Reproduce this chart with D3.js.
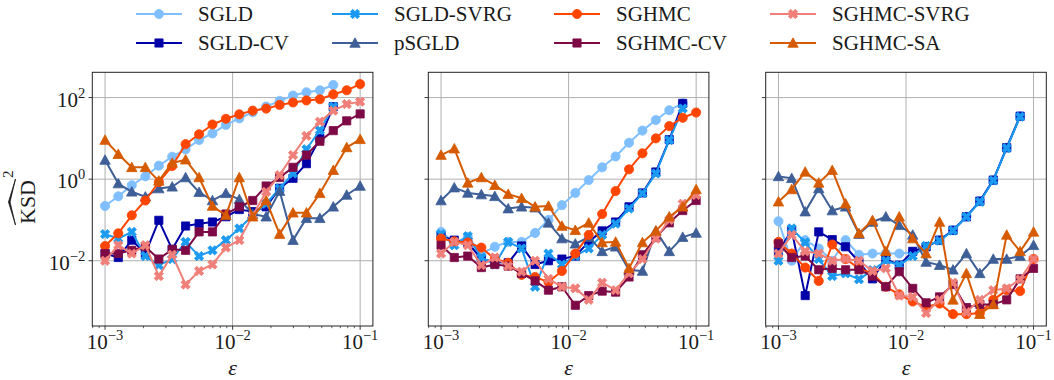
<!DOCTYPE html>
<html>
<head>
<meta charset="utf-8">
<script src="https://cdn.jsdelivr.net/npm/d3@7"></script>
<style>
body { margin: 0; background: #fff; }
svg text { font-family: "Liberation Serif", "DejaVu Serif", serif; fill: #1a1a1a; }
</style>
</head>
<body>
<div id="chart"></div>
<script>
// Step sizes, shared by every panel
var eps = [0.001, 0.00127, 0.00162, 0.00207, 0.00264, 0.00336, 0.00428, 0.00546, 0.00695, 0.00886,
	0.01129, 0.01438, 0.01833, 0.02336, 0.02976, 0.03793, 0.04833, 0.06158, 0.07848, 0.1];

var names = ["SGLD", "SGLD-CV", "SGLD-SVRG", "pSGLD", "SGHMC", "SGHMC-CV", "SGHMC-SVRG", "SGHMC-SA"];

// Panel 1
var p1Sgld = [0.22, 0.38, 0.71, 1.17, 2.14, 3.55, 5.37, 9.12, 13.2, 21.4, 30.9, 43.7, 60.3, 83.2, 112, 135, 151, 204];
var p1SgldCv = [0.015, 0.012, 0.032, 0.015, 0.098, 0.019, 0.071, 0.081, 0.089, 0.12, 0.18, 0.16, 0.21, 0.60, 1.05, 2.4, 10, 60];
var p1SgldSvrg = [0.045, 0.035, 0.051, 0.013, 0.0078, 0.011, 0.029, 0.013, 0.018, 0.032, 0.062, 0.13, 0.25, 0.59, 1.38, 5.4, 15.8, 60];
var p1Psgld = [2.95, 0.78, 0.49, 0.37, 0.59, 0.65, 1.10, 0.48, 0.30, 0.45, 0.32, 0.14, 0.12, 0.51, 0.032, 0.11, 0.11, 0.21, 0.41, 0.68];
var p1Sghmc = [0.023, 0.047, 0.13, 0.30, 0.85, 2.1, 7.2, 12.6, 21.9, 30.2, 38.9, 47.9, 53.7, 66.1, 75.9, 85.1, 91.2, 120, 151, 214];
var p1SghmcCv = [0.015, 0.015, 0.018, 0.022, 0.011, 0.019, 0.018, 0.051, 0.051, 0.14, 0.21, 0.30, 0.68, 1.10, 1.95, 3.9, 8.5, 15.5, 26.9, 39.8];
var p1SghmcSvrg = [0.010, 0.024, 0.015, 0.024, 0.0042, 0.014, 0.0026, 0.0056, 0.0081, 0.021, 0.032, 0.13, 0.49, 1.26, 3.9, 11.5, 25.7, 47.9, 69.2, 79.4];
var p1SghmcSa = [9.1, 4.1, 1.95, 1.95, 0.91, 2.5, 3.0, 1.10, 0.22, 0.13, 1.10, 0.12, 0.30, 0.045, 0.15, 0.15, 0.45, 1.66, 6.0, 9.5];

// Panel 2
var p2Sgld = [0.051, 0.028, 0.038, 0.015, 0.022, 0.029, 0.029, 0.048, 0.10, 0.23, 0.46, 0.95, 1.95, 3.6, 7.8, 15.5, 28.2, 49, 72];
var p2SgldCv = [0.040, 0.032, 0.028, 0.011, 0.0093, 0.0089, 0.023, 0.0081, 0.010, 0.011, 0.013, 0.029, 0.054, 0.089, 0.21, 0.46, 1.5, 9.3, 72];
var p2SgldSvrg = [0.045, 0.024, 0.040, 0.012, 0.0081, 0.029, 0.020, 0.0023, 0.015, 0.0081, 0.013, 0.020, 0.043, 0.081, 0.19, 0.45, 1.38, 9.1, 54];
var p2Psgld = [0.30, 0.62, 0.46, 0.42, 0.38, 0.19, 0.21, 0.20, 0.085, 0.035, 0.026, 0.038, 0.017, 0.022, 0.0059, 0.0056, 0.054, 0.017, 0.038, 0.048];
var p2Sghmc = [0.035, 0.030, 0.028, 0.021, 0.011, 0.0089, 0.0045, 0.0040, 0.0030, 0.0056, 0.015, 0.043, 0.14, 0.51, 1.74, 4.3, 10, 20, 32, 43];
var p2SghmcCv = [0.024, 0.012, 0.013, 0.0068, 0.0081, 0.0074, 0.0049, 0.0032, 0.0019, 0.0023, 0.00081, 0.0014, 0.0018, 0.0017, 0.0040, 0.014, 0.037, 0.085, 0.17, 0.30];
var p2SghmcSvrg = [0.015, 0.029, 0.024, 0.0078, 0.012, 0.0074, 0.0054, 0.010, 0.0036, 0.0023, 0.0021, 0.0011, 0.0029, 0.0019, 0.0049, 0.011, 0.035, 0.10, 0.25, 0.41];
var p2SghmcSa = [3.9, 5.6, 0.81, 1.10, 0.71, 0.43, 0.34, 0.21, 0.22, 0.071, 0.056, 0.085, 0.028, 0.029, 0.0065, 0.028, 0.054, 0.12, 0.21, 0.56];

// Panel 3
var p3Sgld = [0.093, 0.010, 0.032, 0.020, 0.010, 0.032, 0.014, 0.015, 0.015, 0.015, 0.016, 0.022, 0.032, 0.056, 0.12, 0.29, 0.95, 5.9, 35];
var p3SgldCv = [0.017, 0.056, 0.0014, 0.051, 0.033, 0.022, 0.0093, 0.0036, 0.011, 0.0078, 0.017, 0.022, 0.032, 0.056, 0.12, 0.29, 0.95, 5.9, 35];
var p3SgldSvrg = [0.010, 0.062, 0.028, 0.011, 0.0042, 0.0049, 0.0035, 0.0059, 0.010, 0.0078, 0.013, 0.023, 0.031, 0.055, 0.12, 0.28, 0.93, 5.8, 34];
var p3Psgld = [1.17, 1.05, 0.16, 0.59, 0.17, 0.21, 0.045, 0.089, 0.12, 0.074, 0.043, 0.0093, 0.0078, 0.0060, 0.015, 0.0049, 0.011, 0.011, 0.013, 0.024];
var p3Sghmc = [0.029, 0.015, 0.0068, 0.0032, 0.025, 0.011, 0.0065, 0.0049, 0.0023, 0.0015, 0.0010, 0.00074, 0.00089, 0.00049, 0.00049, 0.00052, 0.0011, 0.0019, 0.0018, 0.011];
var p3SghmcCv = [0.026, 0.012, 0.013, 0.0060, 0.0065, 0.0060, 0.0060, 0.0042, 0.0023, 0.0054, 0.0021, 0.00093, 0.0013, 0.0026, 0.00071, 0.00085, 0.00085, 0.0011, 0.0036, 0.0065];
var p3SghmcSvrg = [0.015, 0.043, 0.017, 0.015, 0.010, 0.011, 0.010, 0.0056, 0.0065, 0.0014, 0.0013, 0.00052, 0.0011, 0.0029, 0.00055, 0.0011, 0.0019, 0.0021, 0.0035, 0.011];
var p3SghmcSa = [0.28, 0.56, 1.51, 0.81, 1.66, 0.25, 0.047, 0.098, 0.017, 0.12, 0.035, 0.015, 0.089, 0.0011, 0.0049, 0.00049, 0.00085, 0.043, 0.017, 0.051];

// Ticks
var xTicks = [1e-3, 1e-2, 1e-1];
var xTickExp = ["\u22123", "\u22122", "\u22121"];
var yTicks = [1e2, 1, 1e-2];
var yTickExp = ["2", "0", "\u22122"];

var panels = [
	[p1Sgld, p1SgldCv, p1SgldSvrg, p1Psgld, p1Sghmc, p1SghmcCv, p1SghmcSvrg, p1SghmcSa],
	[p2Sgld, p2SgldCv, p2SgldSvrg, p2Psgld, p2Sghmc, p2SghmcCv, p2SghmcSvrg, p2SghmcSa],
	[p3Sgld, p3SgldCv, p3SgldSvrg, p3Psgld, p3Sghmc, p3SghmcCv, p3SghmcSvrg, p3SghmcSa]
];

// Styles
var colors = ["#7fbfff", "#0000a8", "#1a9af0", "#3d5e96", "#ff4500", "#7d0a46", "#ef7f78", "#d65a00"];
var shapes = ["circle", "square", "x", "triangle", "circle", "square", "x", "triangle"];

// Layout
var width = 1054,
	height = 380,
	panelLeft = [92.3, 428.3, 765.7],
	panelW = 280.6,
	panelTop = 72.3,
	panelH = 253.7;

var x = d3.scaleLog()
	.domain([Math.pow(10, -3.1), Math.pow(10, -0.9)])
	.range([0, panelW]);

var y = d3.scaleLog()
	.domain([Math.pow(10, -3.6), Math.pow(10, 2.62)])
	.range([panelH, 0]);

var svg = d3.select("#chart")
	.append("svg")
	.attr("width", width)
	.attr("height", height);

// Marker shapes
function xPath() {
	var a = 4.9, t = 1.7;
	var pts = [[t, a], [t, t], [a, t], [a, -t], [t, -t], [t, -a], [-t, -a], [-t, -t], [-a, -t], [-a, t], [-t, t], [-t, a]];
	return "M" + pts.map(function (p) {
		return [((p[0] - p[1]) / Math.SQRT2).toFixed(2), ((p[0] + p[1]) / Math.SQRT2).toFixed(2)].join(",");
	}).join("L") + "Z";
}

function markerPath(shape) {
	if (shape === "circle") return d3.symbol(d3.symbolCircle, 66)();
	if (shape === "square") return "M-4.1,-4.1H4.1V4.1H-4.1Z";
	if (shape === "triangle") return "M0,-5.2L5.2,4.3L-5.2,4.3Z";
	return xPath();
}

var line = d3.line()
	.x(function (d) { return x(d.e); })
	.y(function (d) { return y(d.v); });

function addSup(sel, exp) {
	sel.append("tspan").text("10");
	sel.append("tspan")
		.attr("dy", -9)
		.style("font-size", "14.5px")
		.text(exp);
}

panels.forEach(function (series, p) {
	var g = svg.append("g")
		.attr("transform", "translate(" + panelLeft[p] + "," + panelTop + ")");

	// Grid
	g.selectAll(".gx")
		.data(xTicks)
		.enter()
		.append("line")
		.attr("x1", function (d) { return x(d); })
		.attr("x2", function (d) { return x(d); })
		.attr("y1", 0)
		.attr("y2", panelH)
		.attr("stroke", "#b0b0b0")
		.attr("stroke-width", 1);

	g.selectAll(".gy")
		.data(yTicks)
		.enter()
		.append("line")
		.attr("x1", 0)
		.attr("x2", panelW)
		.attr("y1", function (d) { return y(d); })
		.attr("y2", function (d) { return y(d); })
		.attr("stroke", "#b0b0b0")
		.attr("stroke-width", 1);

	// Lines and markers
	series.forEach(function (vals, i) {
		var pts = vals.map(function (v, j) { return { e: eps[j], v: v }; });

		g.append("path")
			.datum(pts)
			.attr("d", line)
			.attr("fill", "none")
			.attr("stroke", colors[i])
			.attr("stroke-width", 2)
			.attr("stroke-linejoin", "round");

		g.selectAll(".m" + i)
			.data(pts)
			.enter()
			.append("path")
			.attr("transform", function (d) {
				return "translate(" + x(d.e) + "," + y(d.v) + ")";
			})
			.attr("d", markerPath(shapes[i]))
			.attr("fill", colors[i])
			.attr("stroke", colors[i])
			.attr("stroke-width", 0.8);
	});

	// Minor x ticks
	var minor = [];
	[1e-4, 1e-3, 1e-2].forEach(function (dec) {
		for (var k = 2; k <= 9; k++) {
			var v = k * dec;
			if (v >= x.domain()[0] && v <= x.domain()[1]) minor.push(v);
		}
	});

	g.selectAll(".mt")
		.data(minor)
		.enter()
		.append("line")
		.attr("x1", function (d) { return x(d); })
		.attr("x2", function (d) { return x(d); })
		.attr("y1", panelH)
		.attr("y2", panelH + 2.2)
		.attr("stroke", "#222")
		.attr("stroke-width", 0.7);

	// Major x ticks and labels
	g.selectAll(".xt")
		.data(xTicks)
		.enter()
		.append("line")
		.attr("x1", function (d) { return x(d); })
		.attr("x2", function (d) { return x(d); })
		.attr("y1", panelH)
		.attr("y2", panelH + 3.8)
		.attr("stroke", "#222")
		.attr("stroke-width", 0.9);

	xTicks.forEach(function (d, k) {
		g.append("text")
			.attr("x", x(d))
			.attr("y", panelH + 23)
			.attr("text-anchor", "middle")
			.style("font-size", "21px")
			.call(addSup, xTickExp[k]);
	});

	// y ticks (labels only on the first panel)
	g.selectAll(".yt")
		.data(yTicks)
		.enter()
		.append("line")
		.attr("x1", -3.8)
		.attr("x2", 0)
		.attr("y1", function (d) { return y(d); })
		.attr("y2", function (d) { return y(d); })
		.attr("stroke", "#222")
		.attr("stroke-width", 0.9);

	if (p === 0) {
		yTicks.forEach(function (d, k) {
			g.append("text")
				.attr("x", -7)
				.attr("y", y(d) + 9)
				.attr("text-anchor", "end")
				.style("font-size", "21px")
				.call(addSup, yTickExp[k]);
		});
	}

	// Frame
	g.append("rect")
		.attr("width", panelW)
		.attr("height", panelH)
		.attr("fill", "none")
		.attr("stroke", "#222")
		.attr("stroke-width", 1);

	// x label
	g.append("text")
		.attr("x", panelW / 2)
		.attr("y", panelH + 49)
		.attr("text-anchor", "middle")
		.style("font-size", "22px")
		.style("font-style", "italic")
		.text("\u03b5");
});

// y label: KSD with a wide hat and squared
var yl = svg.append("g")
	.attr("transform", "translate(27,202) rotate(-90)");

yl.append("text")
	.attr("x", 0)
	.attr("y", 8)
	.attr("text-anchor", "middle")
	.style("font-size", "22px")
	.text("KSD");

yl.append("path")
	.attr("d", "M-23,-11.5L0,-18.5L23,-11.5L0,-17Z")
	.attr("fill", "#1a1a1a")
	.attr("stroke", "#1a1a1a")
	.attr("stroke-width", 0.8)
	.attr("stroke-linejoin", "round");

yl.append("text")
	.attr("x", 24)
	.attr("y", -14)
	.style("font-size", "15px")
	.text("2");

// Legend
var legX = [136, 332, 554, 770],
	legY = [14, 43];

names.forEach(function (name, i) {
	var lg = svg.append("g")
		.attr("transform", "translate(" + legX[Math.floor(i / 2)] + "," + legY[i % 2] + ")");

	lg.append("line")
		.attr("x1", 0)
		.attr("x2", 46)
		.attr("stroke", colors[i])
		.attr("stroke-width", 2);

	lg.append("path")
		.attr("transform", "translate(23,0)")
		.attr("d", markerPath(shapes[i]))
		.attr("fill", colors[i])
		.attr("stroke", colors[i])
		.attr("stroke-width", 0.8);

	lg.append("text")
		.attr("x", 62)
		.attr("y", 7)
		.style("font-size", "21px")
		.text(name);
});
</script>
</body>
</html>
